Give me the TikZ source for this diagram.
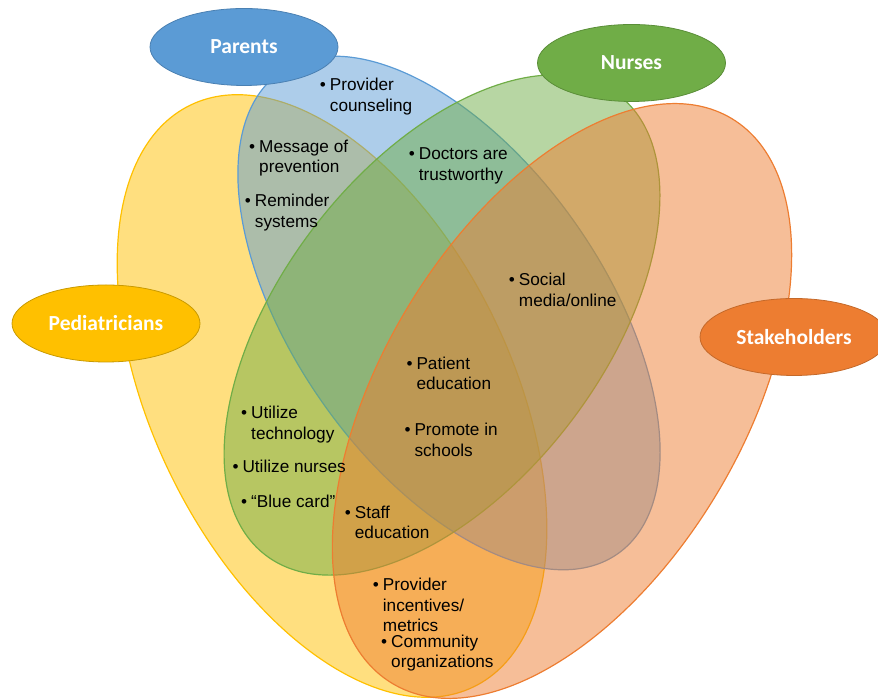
\documentclass[tikz,border=0pt]{standalone}
\usepackage{fontspec}
\setmainfont{Liberation Sans}
\newfontfamily\labelfamily{Carlito}
\usetikzlibrary{shapes.geometric}

\definecolor{pedC}{HTML}{FFC000}
\definecolor{parC}{HTML}{5B9BD5}
\definecolor{nurC}{HTML}{70AD47}
\definecolor{stkC}{HTML}{ED7D31}
\definecolor{pedD}{HTML}{C99A00}
\definecolor{parD}{HTML}{4A80B2}
\definecolor{nurD}{HTML}{5A8E38}
\definecolor{stkD}{HTML}{C4692A}

% bullet column plus text column; first row sets the baseline
\newcommand{\bulletlist}[1]{\begin{tabular}[t]{@{}c@{\hspace{4pt}}l@{}}#1\end{tabular}}

\tikzset{
  venn/.style={ellipse, inner sep=0pt, line width=1.2pt, fill opacity=0.5, draw opacity=1},
  grouplabel/.style={ellipse, inner sep=0pt, minimum width=188pt, minimum height=77pt,
    line width=0.8pt, text=white, font=\labelfamily\bfseries\fontsize{21.5}{25}\selectfont},
  bullettext/.style={anchor=base west, inner sep=0pt, text=black,
    font=\fontsize{17.2}{20.5}\selectfont}
}

\begin{document}
\begin{tikzpicture}[x=1pt,y=1pt]
\useasboundingbox (0,0) rectangle (878,700);

% the four overlapping groups
\node[venn, draw=pedC, fill=pedC, rotate=26, minimum width=359pt, minimum height=647pt] (ped) at (332,304) {};
\node[venn, draw=parC, fill=parC, rotate=35, minimum width=310pt, minimum height=588pt] (par) at (449,387) {};
\node[venn, draw=nurC, fill=nurC, rotate=-37.5, minimum width=322pt, minimum height=580pt] (nur) at (442,375) {};
\node[venn, draw=stkC, fill=stkC, rotate=-31, minimum width=361pt, minimum height=659pt] (stk) at (562,299) {};

% group labels
\node[grouplabel, fill=parC, draw=parD] (lpar) at (244,653) {Parents};
\node[grouplabel, fill=nurC, draw=nurD] (lnur) at (631.5,637) {Nurses};
\node[grouplabel, fill=pedC, draw=pedD] (lped) at (106,376.5) {Pediatricians};
\node[grouplabel, fill=stkC, draw=stkD] (lstk) at (794,363) {Stakeholders};

% strategies
\node[bullettext] (t1) at (319.7,609) {\bulletlist{\textbullet & Provider\\ & counseling}};
\node[bullettext] (t2) at (249,547.7) {\bulletlist{\textbullet & Message of\\ & prevention}};
\node[bullettext] (t3) at (244.7,493.3) {\bulletlist{\textbullet & Reminder\\ & systems}};
\node[bullettext] (t4) at (408.7,540) {\bulletlist{\textbullet & Doctors are\\ & trustworthy}};
\node[bullettext] (t5) at (508.7,414) {\bulletlist{\textbullet & Social\\ & media/online}};
\node[bullettext] (t6) at (406.3,330.7) {\bulletlist{\textbullet & Patient\\ & education}};
\node[bullettext] (t7) at (404.3,264.3) {\bulletlist{\textbullet & Promote in\\ & schools}};
\node[bullettext] (t8) at (241,281) {\bulletlist{\textbullet & Utilize\\ & technology}};
\node[bullettext] (t9) at (232.3,227.7) {\bulletlist{\textbullet & Utilize nurses}};
\node[bullettext] (t10) at (241,192.7) {\bulletlist{\textbullet & “Blue card”}};
\node[bullettext] (t11) at (344.7,181.7) {\bulletlist{\textbullet & Staff\\ & education}};
\node[bullettext] (t12) at (372.7,109.3) {\bulletlist{\textbullet & Provider\\ & incentives/\\ & metrics}};
\node[bullettext] (t13) at (381,52.7) {\bulletlist{\textbullet & Community\\ & organizations}};
\end{tikzpicture}
\end{document}
